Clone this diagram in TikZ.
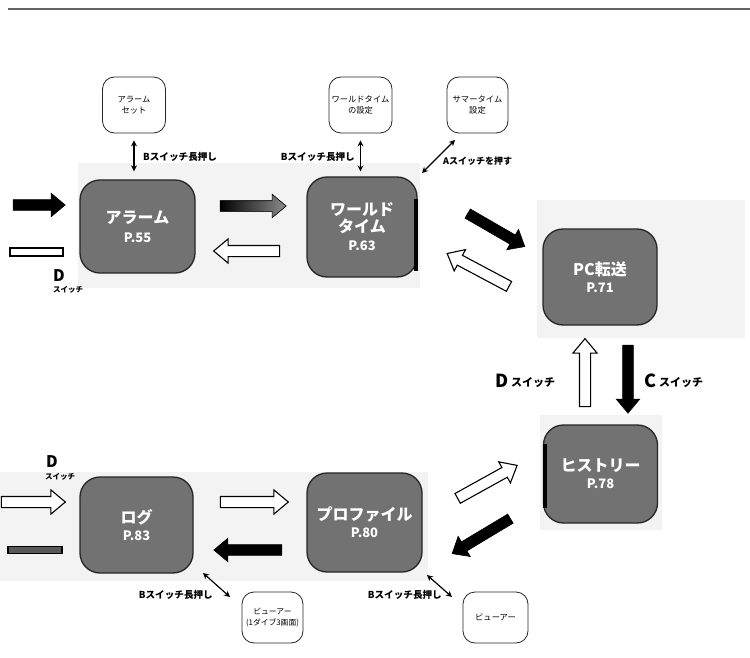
\documentclass[tikz,border=0pt]{standalone}
\usepackage{fontspec}
\newfontfamily\jp{Noto Sans CJK JP}
\usetikzlibrary{shapes.arrows,arrows.meta}
\definecolor{boxgray}{HTML}{727272}
\definecolor{panel}{HTML}{F3F3F3}
\newcommand\pgnum{\fontsize{13}{15}\selectfont}
\tikzset{
 mainbox/.style={draw=black!85, line width=1.3pt, fill=boxgray, rounded corners=20pt,
   minimum width=114pt, minimum height=96pt, text=white,
   font=\jp\bfseries\fontsize{16}{20}\selectfont, align=center, inner sep=0pt},
 smallbox/.style={draw=black!85, line width=0.8pt, fill=white, rounded corners=12pt,
   minimum width=63pt, minimum height=56pt, font=\jp\fontsize{8.3}{11}\selectfont,
   align=center, inner sep=1pt},
 barrow/.style={single arrow, draw=black, fill=black, minimum width=23pt,
   single arrow head extend=6.5pt, single arrow tip angle=80, inner xsep=0pt,
   inner ysep=5pt, line width=0.6pt},
 harrow/.style={barrow, fill=white, line width=1.1pt},
 dbl/.style={{Stealth[length=6pt,width=6pt]}-{Stealth[length=6pt,width=6pt]}, line width=1.2pt},
 lbl/.style={font=\jp\bfseries\fontsize{9.6}{11}\selectfont, inner sep=0pt},
 keyD/.style={font=\jp\bfseries\fontsize{16}{18}\selectfont, inner sep=0pt},
 sw/.style={font=\jp\bfseries\fontsize{8}{10}\selectfont, inner sep=0pt}
}
\begin{document}
\begin{tikzpicture}[x=1pt,y=-1pt]
\useasboundingbox (0,0) rectangle (750,658);
% faint background panels
\fill[panel] (78,163) rectangle (420,288);
\fill[panel] (537,200) rectangle (745,338);
\fill[panel] (540,415) rectangle (662,530);
\fill[panel] (0,472) rectangle (428,581);
% top rule
\draw[black!60, line width=1.5pt] (8,9) -- (750,9);

% main boxes
\node[mainbox, minimum width=115pt, minimum height=93pt] (alarm) at (137.5,226.5)
  {アラーム\\[-1pt]{\pgnum P.55}};
\node[mainbox, minimum width=110pt, minimum height=100pt] (world) at (362,227)
  {ワールド\\[-3pt]タイム\\[-2pt]{\pgnum P.63}};
\node[mainbox] (pc) at (600,277) {PC転送\\[-3pt]{\pgnum P.71}};
\node[mainbox, minimum height=98pt] (hist) at (600.5,474) {ヒストリー\\[-3pt]{\pgnum P.78}};
\node[mainbox, minimum width=115pt, minimum height=99pt] (prof) at (364.5,522.5)
  {プロファイル\\[-3pt]{\pgnum P.80}};
\node[mainbox, minimum width=113pt] (log) at (136.5,525) {ログ\\[-3pt]{\pgnum P.83}};
% dark edges
\draw[black, line width=4pt] (world.east) ++(-2,-28) -- ++(0,72);
\draw[black, line width=4pt] (hist.west) ++(2,-30) -- ++(0,64);

% small boxes
\node[smallbox] (aset) at (134,105) {アラーム\\セット};
\node[smallbox] (wset) at (360.5,105) {ワールドタイム\\の設定};
\node[smallbox, minimum width=61pt] (sset) at (477.5,105) {サマータイム\\設定};
\node[smallbox, minimum width=61pt, minimum height=51pt, font=\jp\fontsize{7.8}{10.5}\selectfont] (v1) at (272.5,617.5) {ビューアー\\(1ダイブ3画面)};
\node[smallbox, minimum width=65pt, minimum height=51pt] (v2) at (495.5,617.5) {ビューアー};

% double-headed thin arrows
\draw[dbl, shorten <=7pt, shorten >=8pt] (aset.south) -- (aset.south |- alarm.north);
\draw[dbl, shorten <=7pt, shorten >=5pt] (wset.south) -- (wset.south |- world.north);
\coordinate (s1) at (455,140); \coordinate (s2) at (422,173);
\draw[dbl] (s1) -- (s2);
\coordinate (b1) at (203,573); \coordinate (b2) at (230,597);
\draw[dbl] (b1) -- (b2);
\coordinate (b3) at (427,575); \coordinate (b4) at (452,597);
\draw[dbl] (b3) -- (b4);

% labels
\node[lbl, anchor=west] (l1) at (143,157) {Bスイッチ長押し};
\node[lbl, anchor=east] (l2) at (355,157) {Bスイッチ長押し};
\node[lbl, anchor=west, font=\jp\bfseries\fontsize{9}{11}\selectfont] (l3) at (443,161) {Aスイッチを押す};
\node[lbl, anchor=east] (l4) at (213,595) {Bスイッチ長押し};
\node[lbl, anchor=east] (l5) at (442,595) {Bスイッチ長押し};

% block arrows, top row
\node[barrow, minimum height=52pt] (ain) at (36,205) {};
\node[draw=black, line width=1.1pt, fill=white, minimum width=53pt, minimum height=8pt, inner sep=0pt] (abar) at (36.5,252) {};
\node[keyD, anchor=west] (d1) at (53,276) {D};
\node[sw, anchor=west, font=\jp\bfseries\fontsize{7.5}{9}\selectfont] (d1s) at (53,290) {スイッチ};
\node[barrow, minimum height=66pt, left color=black, right color=black!45] (aw) at (250,206) {};
\node[harrow, minimum height=66pt, rotate=180] (wa) at (250,251) {};
\node[barrow, minimum height=66pt, rotate=-30] (wp) at (493.5,228.5) {};
\node[harrow, minimum height=70pt, rotate=152] (pw) at (481,271.5) {};

% vertical arrows
\node[harrow, minimum height=68pt, rotate=90] (hp) at (585,376) {};
\node[barrow, minimum height=68pt, rotate=-90] (ph) at (628,376) {};
\node[keyD, anchor=west, font=\jp\bfseries\fontsize{18}{20}\selectfont] (dk) at (495,381) {D};
\node[sw, anchor=west, font=\jp\bfseries\fontsize{11}{12}\selectfont] (dks) at (511,383) {スイッチ};
\node[keyD, anchor=west, font=\jp\bfseries\fontsize{18}{20}\selectfont] (ck) at (644,381) {C};
\node[sw, anchor=west, font=\jp\bfseries\fontsize{11}{12}\selectfont] (cks) at (659,383) {スイッチ};

% bottom row arrows
\node[harrow, minimum height=68pt, rotate=29] (prh) at (484.5,483.5) {};
\node[barrow, minimum height=68pt, rotate=-149] (hpr) at (484,534.5) {};
\node[harrow, minimum height=64pt] (lin) at (30,502) {};
\node[draw=black, line width=1.1pt, fill=black!65, minimum width=54pt, minimum height=7pt, inner sep=0pt] (lbar) at (35,550) {};
\node[keyD, anchor=west] (d2) at (46,462) {D};
\node[sw, anchor=west, font=\jp\bfseries\fontsize{7.5}{9}\selectfont] (d2s) at (45,477) {スイッチ};
\node[harrow, minimum height=68pt] (lpr) at (251,502) {};
\node[barrow, minimum height=68pt, rotate=180] (prl) at (251,550) {};
\end{tikzpicture}
\end{document}
